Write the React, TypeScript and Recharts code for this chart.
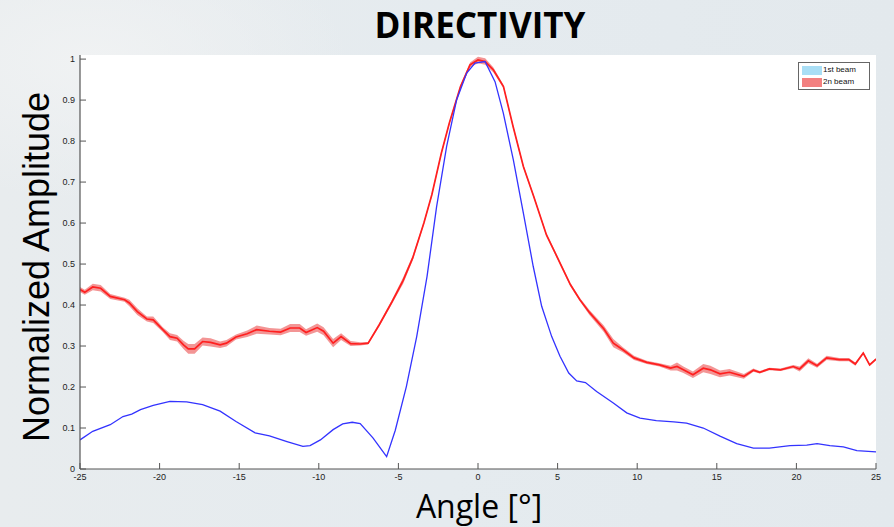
import React from "react";
import { ComposedChart, Line, Area, XAxis, YAxis, CartesianGrid } from "recharts";

// 2n beam (red) : angle, normalized amplitude, half spread of shaded band
const redAngles = [-25, -24.7, -24.2, -23.7, -23.1, -22.2, -21.9, -21.4, -20.8, -20.4, -19.8, -19.35, -18.9, -18.5, -18.2, -17.8, -17.3, -16.8, -16.2, -15.8, -15.2, -14.5, -13.9, -13.1, -12.4, -11.8, -11.2, -10.8, -10.1, -9.7, -9.1, -8.6, -8.0, -7.4, -6.9, -6.2, -5.4, -4.7, -4.1, -3.4, -2.9, -2.3, -1.8, -1.1, -0.5, 0.0, 0.45, 0.96, 1.6, 2.2, 2.85, 3.5, 4.3, 4.95, 5.8, 6.4, 7.0, 7.9, 8.5, 9.1, 9.8, 10.6, 11.4, 12.1, 12.5, 12.9, 13.5, 14.15, 14.6, 15.2, 15.8, 16.7, 17.3, 17.7, 18.3, 19.0, 19.8, 20.2, 20.75, 21.3, 21.9, 22.7, 23.3, 23.7, 24.2, 24.6, 25];
const redValues = [0.438, 0.431, 0.444, 0.441, 0.421, 0.413, 0.405, 0.384, 0.366, 0.364, 0.34, 0.323, 0.319, 0.303, 0.293, 0.293, 0.311, 0.309, 0.303, 0.307, 0.322, 0.33, 0.34, 0.336, 0.334, 0.344, 0.344, 0.333, 0.345, 0.336, 0.307, 0.323, 0.306, 0.305, 0.307, 0.352, 0.408, 0.46, 0.515, 0.6, 0.669, 0.771, 0.844, 0.933, 0.986, 0.998, 0.994, 0.974, 0.933, 0.836, 0.738, 0.665, 0.571, 0.519, 0.45, 0.413, 0.382, 0.342, 0.307, 0.291, 0.271, 0.26, 0.254, 0.246, 0.25, 0.242, 0.23, 0.246, 0.242, 0.232, 0.236, 0.226, 0.241, 0.236, 0.244, 0.242, 0.25, 0.244, 0.264, 0.252, 0.271, 0.267, 0.267, 0.256, 0.283, 0.254, 0.268];
const redSpread = [0.006, 0.006, 0.008, 0.008, 0.006, 0.005, 0.008, 0.008, 0.006, 0.008, 0.006, 0.008, 0.008, 0.01, 0.012, 0.012, 0.01, 0.01, 0.008, 0.008, 0.006, 0.008, 0.01, 0.008, 0.008, 0.01, 0.01, 0.008, 0.01, 0.01, 0.01, 0.008, 0.006, 0.004, 0.003, 0.004, 0.005, 0.008, 0.006, 0.004, 0.004, 0.004, 0.004, 0.004, 0.006, 0.008, 0.008, 0.006, 0.004, 0.004, 0.004, 0.004, 0.004, 0.004, 0.004, 0.004, 0.006, 0.008, 0.01, 0.006, 0.005, 0.004, 0.004, 0.006, 0.01, 0.008, 0.008, 0.01, 0.01, 0.008, 0.008, 0.006, 0.004, 0.003, 0.003, 0.003, 0.004, 0.006, 0.006, 0.005, 0.005, 0.004, 0.004, 0.004, 0.003, 0.003, 0.003];

// 1st beam (blue)
const blueAngles = [-25, -24.2, -23.1, -22.3, -21.75, -21.2, -20.4, -19.35, -18.3, -17.3, -16.2, -15.2, -14.0, -13.1, -12.0, -11.0, -10.55, -9.9, -9.1, -8.5, -7.9, -7.4, -6.6, -5.74, -5.2, -4.5, -3.85, -3.2, -2.6, -1.97, -1.34, -0.71, -0.19, 0.44, 1.07, 1.59, 2.22, 2.85, 3.47, 4.0, 4.63, 5.15, 5.7, 6.2, 6.75, 7.45, 8.5, 9.34, 10.18, 11.2, 12.3, 13.1, 14.15, 15.2, 16.25, 17.3, 18.3, 19.6, 20.65, 21.3, 22.1, 22.95, 23.8, 25];
const blueValues = [0.071, 0.092, 0.108, 0.128, 0.134, 0.145, 0.155, 0.165, 0.164, 0.157, 0.141, 0.116, 0.088, 0.081, 0.067, 0.055, 0.057, 0.071, 0.096, 0.11, 0.114, 0.111, 0.076, 0.03, 0.094, 0.201, 0.323, 0.47, 0.64, 0.787, 0.901, 0.966, 0.99, 0.994, 0.945, 0.868, 0.754, 0.624, 0.494, 0.397, 0.323, 0.275, 0.234, 0.215, 0.211, 0.189, 0.161, 0.137, 0.124, 0.118, 0.115, 0.112, 0.1, 0.08, 0.062, 0.051, 0.051, 0.057, 0.058, 0.062, 0.057, 0.054, 0.045, 0.042];

const xTicks = [-25, -20, -15, -10, -5, 0, 5, 10, 15, 20, 25];
const yTicks = [0, 0.1, 0.2, 0.3, 0.4, 0.5, 0.6, 0.7, 0.8, 0.9, 1];
const yTickLabels = ["0", "0.1", "0.2", "0.3", "0.4", "0.5", "0.6", "0.7", "0.8", "0.9", "1"];
const legendItems = [
  { label: "1st beam", color: "#a9def5" },
  { label: "2n beam", color: "#f28080" },
];

const redData = redAngles.map((a, i) => ({
  angle: a,
  value: redValues[i],
  band: [redValues[i] - redSpread[i], redValues[i] + redSpread[i]],
}));
const blueData = blueAngles.map((a, i) => ({ angle: a, value: blueValues[i] }));

const tickFont = "'Liberation Sans', Arial, sans-serif";
const emptyTick = () => <g />;

export default function App() {
  return (
    <div
      style={{
        position: "absolute",
        left: 0,
        top: 0,
        width: 894,
        height: 527,
        overflow: "hidden",
        background:
          "radial-gradient(ellipse 260px 140px at 90px 60px, #f0f2f3 0%, rgba(240,242,243,0) 100%), linear-gradient(to right, #e8ecee, #e5ebef 50%, #e3e9ed)",
      }}
    >
      <div
        style={{
          position: "absolute",
          left: 480,
          top: 7,
          transform: "translateX(-50%)",
          fontFamily: "'Open Sans', sans-serif",
          fontWeight: 700,
          fontSize: 35,
          lineHeight: 1,
          whiteSpace: "nowrap",
          color: "#000",
        }}
      >
        DIRECTIVITY
      </div>
      <div style={{ position: "absolute", left: 0, top: 0 }}>
        <ComposedChart
          width={894}
          height={527}
          margin={{ top: 55, right: 18, left: 0, bottom: 0 }}
        >
          <CartesianGrid horizontal={false} vertical={false} fill="#ffffff" fillOpacity={1} xAxisId="b" yAxisId="l" />
          <XAxis
            xAxisId="b"
            dataKey="angle"
            type="number"
            domain={[-25, 25]}
            ticks={xTicks}
            allowDataOverflow
            height={58}
            tickSize={-6}
            tickMargin={11}
            axisLine={{ stroke: "#555", strokeWidth: 1.2 }}
            tickLine={{ stroke: "#555" }}
            tick={{ fontSize: 9, fill: "#222", fontFamily: tickFont }}
            interval={0}
          />
          <XAxis
            xAxisId="t"
            orientation="top"
            dataKey="angle"
            type="number"
            domain={[-25, 25]}
            ticks={xTicks}
            allowDataOverflow
            height={0}
            tickSize={-6}
            axisLine={{ stroke: "#555", strokeWidth: 1.2 }}
            tickLine={{ stroke: "#555" }}
            tick={emptyTick}
            interval={0}
          />
          <YAxis
            yAxisId="l"
            type="number"
            domain={[0, 1.01]}
            ticks={yTicks}
            allowDataOverflow
            width={80}
            tickSize={-6}
            tickMargin={11}
            axisLine={{ stroke: "#555", strokeWidth: 1.2 }}
            tickLine={{ stroke: "#555" }}
            tick={{ fontSize: 9, fill: "#222", fontFamily: tickFont }}
            tickFormatter={(v: number) => yTickLabels[yTicks.indexOf(v)] ?? String(v)}
            interval={0}
          />
          <YAxis
            yAxisId="r"
            orientation="right"
            type="number"
            domain={[0, 1.01]}
            ticks={yTicks}
            allowDataOverflow
            width={0}
            tickSize={-6}
            axisLine={{ stroke: "#555", strokeWidth: 1.2 }}
            tickLine={{ stroke: "#555" }}
            tick={emptyTick}
            interval={0}
          />
          <Area
            xAxisId="b"
            yAxisId="l"
            data={redData}
            dataKey="band"
            type="linear"
            stroke="none"
            fill="#f07a7a"
            fillOpacity={0.8}
            isAnimationActive={false}
            activeDot={false}
          />
          <Line
            xAxisId="b"
            yAxisId="l"
            data={redData}
            dataKey="value"
            type="linear"
            stroke="#ff1f1f"
            strokeWidth={1.7}
            dot={false}
            activeDot={false}
            isAnimationActive={false}
          />
          <Line
            xAxisId="b"
            yAxisId="l"
            data={blueData}
            dataKey="value"
            type="linear"
            stroke="#3333ff"
            strokeWidth={1.3}
            dot={false}
            activeDot={false}
            isAnimationActive={false}
          />
        </ComposedChart>
      </div>
      <div
        style={{
          position: "absolute",
          left: 798,
          top: 62,
          width: 70,
          height: 26,
          border: "1px solid #666",
          background: "#fff",
          fontFamily: tickFont,
          fontSize: 8,
          color: "#111",
        }}
      >
        {legendItems.map((it, i) => (
          <div
            key={it.label}
            style={{ position: "absolute", left: 3, top: 2 + i * 12, display: "flex", alignItems: "center", height: 10 }}
          >
            <div style={{ width: 20, height: 9, background: it.color }} />
            <span style={{ marginLeft: 1, lineHeight: "10px", whiteSpace: "nowrap" }}>{it.label}</span>
          </div>
        ))}
      </div>
      <div
        style={{
          position: "absolute",
          left: 37,
          top: 267,
          transform: "translate(-50%, -50%) rotate(-90deg)",
          fontFamily: "'Liberation Sans', Arial, sans-serif",
          fontSize: 36,
          lineHeight: 1,
          whiteSpace: "nowrap",
          color: "#000",
        }}
      >
        Normalized Amplitude
      </div>
      <div
        style={{
          position: "absolute",
          left: 479,
          top: 490,
          transform: "translateX(-50%)",
          fontFamily: "'Open Sans', sans-serif",
          fontSize: 32,
          lineHeight: 1,
          whiteSpace: "nowrap",
          color: "#000",
        }}
      >
        Angle [°]
      </div>
    </div>
  );
}
